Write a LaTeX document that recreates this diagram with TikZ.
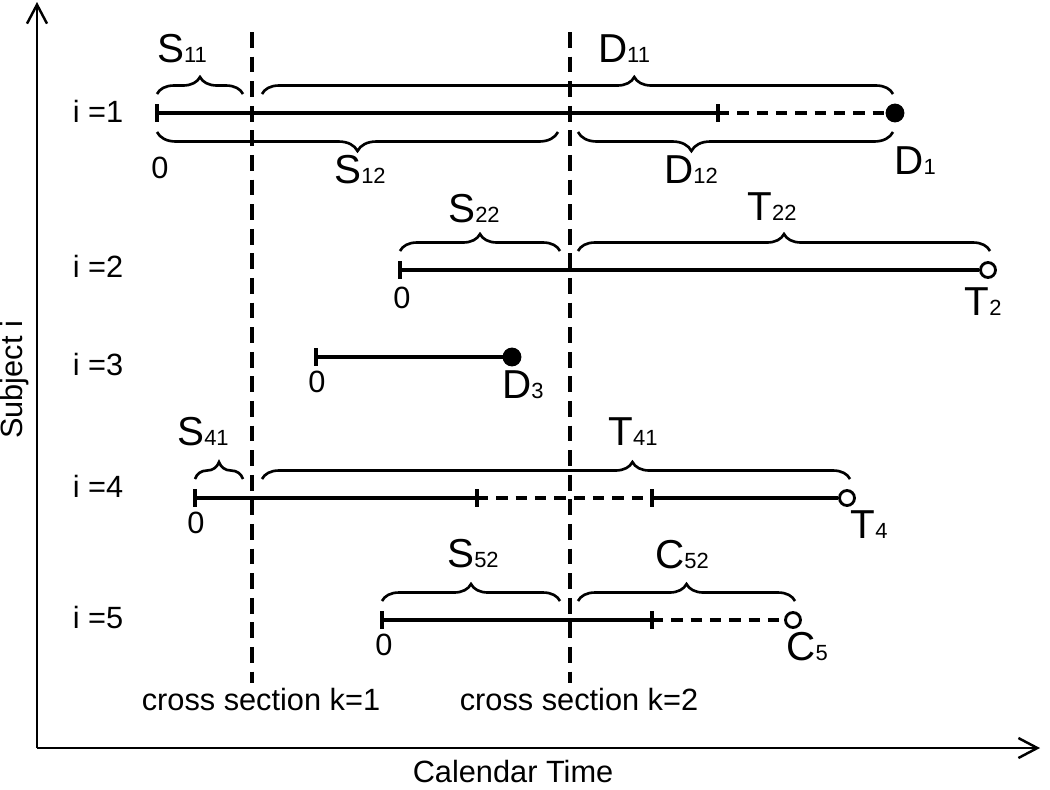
\documentclass[tikz,border=0pt]{standalone}
\usepackage{fontspec}
\setmainfont{Liberation Sans}
\usetikzlibrary{positioning,calc,arrows.meta,decorations.pathreplacing}

% big letter with small index on the baseline
\newcommand{\tlab}[2]{{\fontsize{23}{26}\selectfont #1}{\fontsize{12.5}{14}\selectfont #2}}

\begin{document}
\begin{tikzpicture}[x=0.02cm, y=-0.02cm,
    txt/.style={font=\fontsize{17.5}{20}\selectfont, inner sep=0pt, anchor=base},
    axis/.style={line width=1.4pt},
    seg/.style={line width=2pt},
    dseg/.style={line width=2pt, dash pattern=on 6.5pt off 4.5pt},
    cross/.style={line width=2.1pt, dash pattern=on 9pt off 5pt},
    brc/.style={decorate, decoration={brace, amplitude=0.34cm, aspect=#1}, line width=1.5pt},
    brc/.default=0.5,
    brcdown/.style={decorate, decoration={brace, mirror, amplitude=0.38cm, aspect=#1}, line width=1.5pt},
    brcdown/.default=0.5,
    fulldot/.style={circle, draw, fill=black, minimum size=0.32cm, inner sep=0pt, line width=1.6pt},
    opendot/.style={circle, draw, fill=white, minimum size=0.3cm, inner sep=0pt, line width=1.6pt}]
    \useasboundingbox (0,0) rectangle (1050,789);

    % axes
    \coordinate (O) at (37,748);
    \coordinate (ytop) at (37,2);
    \coordinate (xend) at (1040,748);
    \draw[axis, -{Straight Barb[length=0.38cm, width=0.4cm]}] (O) -- (ytop);
    \draw[axis, -{Straight Barb[length=0.38cm, width=0.4cm]}] (O) -- (xend);
    \node[txt] (xlab) at (513,782) {Calendar Time};
    \node[txt, anchor=center, rotate=90] (ylab) at (15,380) {Subject i};

    % cross sections
    \coordinate (k1top) at (252,32);
    \coordinate (k1bot) at (252,683);
    \coordinate (k2top) at (570,32);
    \coordinate (k2bot) at (570,683);
    \draw[cross] (k1top) -- (k1bot);
    \draw[cross] (k2top) -- (k2bot);
    \node[txt] (k1lab) at (261,710) {cross section k=1};
    \node[txt] (k2lab) at (579,710) {cross section k=2};

    % subjects
    \node[txt] (i1) at (98,122) {i =1};
    \node[txt] (i2) at (98,277) {i =2};
    \node[txt] (i3) at (98,375) {i =3};
    \node[txt] (i4) at (98,497) {i =4};
    \node[txt] (i5) at (98,628) {i =5};

    % i=1
    \coordinate (r1a) at (157,113);
    \coordinate (r1b) at (718,113);
    \node[fulldot] (r1e) at (895,113) {};
    \draw[seg] (r1a) -- (r1b);
    \draw[dseg] (r1b) -- (r1e);
    \draw[brc] (157,94) -- (243,94);
    \draw[brc=0.59] (262,94) -- (893,94);
    \draw[brcdown] (157,132) -- (558,132);
    \draw[brcdown=0.36] (578,132) -- (893,132);
    \node[txt] (z1) at (160,178) {0};
    \node[txt] (s11) at (182,62) {\tlab{S}{11}};
    \node[txt] (d11) at (624,62) {\tlab{D}{11}};
    \node[txt] (s12) at (360,183) {\tlab{S}{12}};
    \node[txt] (d12) at (691,183) {\tlab{D}{12}};
    \node[txt] (d1) at (915,174) {\tlab{D}{1}};

    % i=2
    \coordinate (r2a) at (400,270);
    \node[opendot] (r2e) at (988,270) {};
    \draw[seg] (r2a) -- (r2e);
    \draw[brc] (400,251) -- (560,251);
    \draw[brc] (578,251) -- (990,251);
    \node[txt] (z2) at (402,308) {0};
    \node[txt] (s22) at (474,222) {\tlab{S}{22}};
    \node[txt] (t22) at (772,220) {\tlab{T}{22}};
    \node[txt] (t2) at (983,315) {\tlab{T}{2}};

    % i=3
    \coordinate (r3a) at (316,357);
    \node[fulldot] (r3e) at (512,357) {};
    \draw[seg] (r3a) -- (r3e);
    \node[txt] (z3) at (317,392) {0};
    \node[txt] (d3) at (523,398) {\tlab{D}{3}};

    % i=4
    \coordinate (r4a) at (195,498);
    \coordinate (r4b) at (477,498);
    \coordinate (r4c) at (652,498);
    \node[opendot] (r4e) at (847,498) {};
    \draw[seg] (r4a) -- (r4b);
    \draw[dseg] (r4b) -- (r4c);
    \draw[seg] (r4c) -- (r4e);
    \draw[brc] (195,479) -- (243,479);
    \draw[brc=0.63] (262,479) -- (850,479);
    \node[txt] (z4) at (196,533) {0};
    \node[txt] (s41) at (203,445) {\tlab{S}{41}};
    \node[txt] (t41) at (633,445) {\tlab{T}{41}};
    \node[txt] (t4) at (869,538) {\tlab{T}{4}};

    % i=5
    \coordinate (r5a) at (382,620);
    \coordinate (r5b) at (652,620);
    \node[opendot] (r5e) at (793,620) {};
    \draw[seg] (r5a) -- (r5b);
    \draw[dseg] (r5b) -- (r5e);
    \draw[brc] (382,601) -- (560,601);
    \draw[brc] (578,601) -- (795,601);
    \node[txt] (z5) at (384,655) {0};
    \node[txt] (s52) at (473,567) {\tlab{S}{52}};
    \node[txt] (c52) at (682,568) {\tlab{C}{52}};
    \node[txt] (c5) at (807,660) {\tlab{C}{5}};

    % ticks
    \foreach \t in {r1a,r1b,r2a,r3a,r4a,r4b,r4c,r5a,r5b}
        \draw[seg] ([yshift=0.18cm]\t) -- ([yshift=-0.18cm]\t);
\end{tikzpicture}
\end{document}
